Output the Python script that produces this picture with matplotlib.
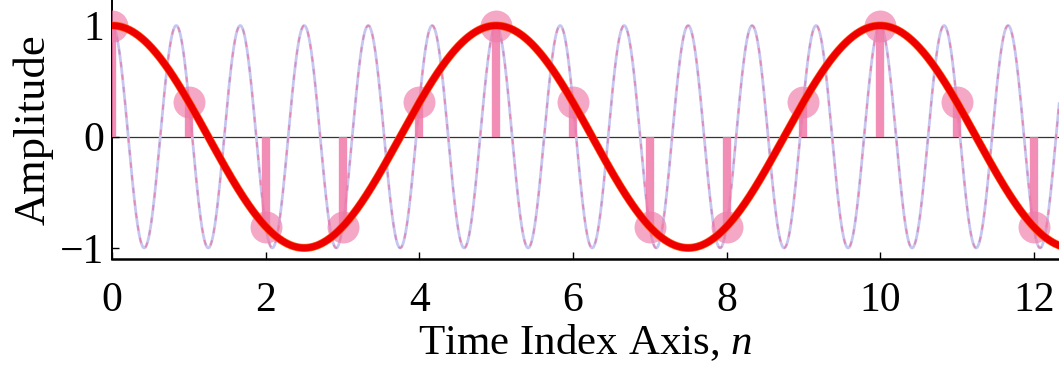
import numpy as np
import matplotlib
matplotlib.use("Agg")
import matplotlib.pyplot as plt

# Données
n_samples = [0, 1, 2, 3, 4, 5, 6, 7, 8, 9, 10, 11, 12]
x_samples = [1.0, 0.31, -0.81, -0.81, 0.31, 1.0, 0.31, -0.81, -0.81, 0.31, 1.0, 0.31, -0.81]
f_low = 0.2    # fréquence de l'alias (cycles / échantillon)
f_high = 1.2   # fréquence du signal d'origine
x_ticks = [0, 2, 4, 6, 8, 10, 12]
y_ticks = [-1, 0, 1]
y_ticklabels = ["\u22121", "0", "1"]

plt.rcParams['font.family'] = ['Liberation Serif', 'DejaVu Serif']
plt.rcParams['mathtext.fontset'] = 'custom'
plt.rcParams['mathtext.it'] = 'Liberation Serif:italic'
plt.rcParams['mathtext.rm'] = 'Liberation Serif'

fig = plt.figure(figsize=(10.59, 3.69), dpi=100)
ax = fig.add_axes([0.106, 0.298, 0.894, 0.702])

t = np.linspace(0, 12.4, 2000)

# sinusoïde haute fréquence (fine, lavande avec tirets roses)
ax.plot(t, np.cos(2 * np.pi * f_high * t), color='#c6c6f0', lw=2.0, zorder=2)
ax.plot(t, np.cos(2 * np.pi * f_high * t), color='#e08ab8', lw=1.3,
        dashes=(3, 4), zorder=2)

# axe zéro
ax.axhline(0, color='#333333', lw=0.9, zorder=1)

# échantillons
ml, sl, bl = ax.stem(n_samples, x_samples, basefmt=' ')
plt.setp(sl, color='#f07aa8', lw=6, alpha=0.85, zorder=3)
plt.setp(ml, marker='o', markersize=23, color='#f07aa8', alpha=0.65,
         markeredgewidth=0, zorder=4)

# sinusoïde basse fréquence (alias)
ax.plot(t, np.cos(2 * np.pi * f_low * t), color='#ff5a10', lw=5.8, zorder=5)
ax.plot(t, np.cos(2 * np.pi * f_low * t), color='#ee0000', lw=4.8, zorder=6)

ax.set_xlim(0, 12.33)
ax.set_ylim(-1.1, 1.23)
ax.set_xticks(x_ticks)
ax.set_yticks(y_ticks)
ax.set_yticklabels(y_ticklabels)
ax.tick_params(direction='in', length=5, width=1, labelsize=30)
ax.tick_params(axis='x', pad=16)
ax.tick_params(axis='y', pad=6)
ax.spines['top'].set_visible(False)
ax.spines['right'].set_visible(False)
ax.spines['left'].set_linewidth(1.4)
ax.spines['bottom'].set_linewidth(1.8)

ax.set_xlabel('Time Index Axis, $n$', fontsize=31, labelpad=2)
ax.set_ylabel('Amplitude', fontsize=32, labelpad=4)

fig.savefig('out.png', dpi=100)
